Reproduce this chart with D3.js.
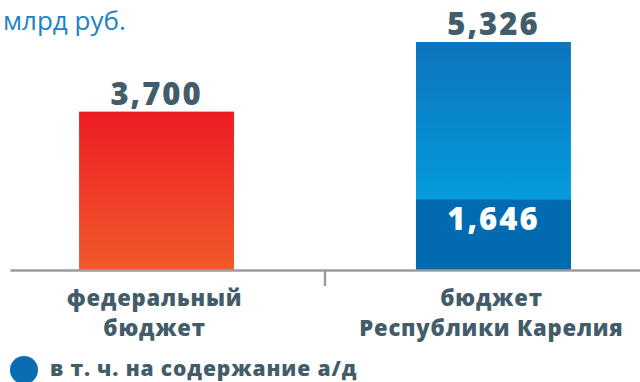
<!DOCTYPE html>
<html>
<head>
<meta charset="utf-8">
<script src="https://cdn.jsdelivr.net/npm/d3@7"></script>
<style>
  html, body { margin: 0; padding: 0; background: #fff; }
  svg { display: block; }
  text { font-family: "Open Sans", "Noto Sans", sans-serif; }
</style>
</head>
<body>
<svg id="chart" width="640" height="382"></svg>
<script>
// Budget sources, bn rubles
const categories = ["федеральный бюджет", "бюджет Республики Карелия"];
const labelLines = [["федеральный", "бюджет"], ["бюджет", "Республики Карелия"]];
const totals = [3.700, 5.326];
const maintenance = [null, 1.646];   // of which: road maintenance
const unitTitle = "млрд руб.";
const legendText = "в т. ч. на содержание а/д";

const fmt = v => d3.format(",.3f")(v).replace(".", ",");

const svg = d3.select("#chart");
const baseY = 270;
const ink = "#435c69";

const x = d3.scaleBand()
  .domain(categories)
  .range([10, 640])
  .paddingInner(0.54)
  .paddingOuter(0.205);

const y = d3.scaleLinear()
  .domain([0, d3.max(totals)])
  .range([baseY, 42]);

// gradients
const defs = svg.append("defs");
const gRed = defs.append("linearGradient").attr("id", "gRed")
  .attr("x1", 0).attr("y1", 0).attr("x2", 0).attr("y2", 1);
gRed.append("stop").attr("offset", "0%").attr("stop-color", "#ee1d25");
gRed.append("stop").attr("offset", "100%").attr("stop-color", "#f15a2a");

const gBlue = defs.append("linearGradient").attr("id", "gBlue")
  .attr("x1", 0).attr("y1", 0).attr("x2", 0).attr("y2", 1);
gBlue.append("stop").attr("offset", "0%").attr("stop-color", "#0e74bd");
gBlue.append("stop").attr("offset", "100%").attr("stop-color", "#00adeb");

// unit title
svg.append("text")
  .attr("x", 3).attr("y", 30)
  .attr("font-size", 26)
  .attr("font-weight", 500)
  .attr("fill", "#1b82c8")
  .text(unitTitle);

// total bars
svg.selectAll("rect.total")
  .data(categories)
  .join("rect")
  .attr("class", "total")
  .attr("x", d => x(d))
  .attr("width", x.bandwidth())
  .attr("y", (d, i) => y(totals[i]))
  .attr("height", (d, i) => baseY - y(totals[i]))
  .attr("fill", (d, i) => i === 0 ? "url(#gRed)" : "url(#gBlue)");

// maintenance segments
const segData = categories.map((c, i) => ({ c, v: maintenance[i] })).filter(d => d.v != null);
svg.selectAll("rect.seg")
  .data(segData)
  .join("rect")
  .attr("class", "seg")
  .attr("x", d => x(d.c))
  .attr("width", x.bandwidth())
  .attr("y", d => y(d.v))
  .attr("height", d => baseY - y(d.v))
  .attr("fill", "#006bb0");

svg.selectAll("text.seg")
  .data(segData)
  .join("text")
  .attr("class", "seg")
  .attr("x", d => x(d.c) + x.bandwidth() / 2)
  .attr("y", d => y(d.v) + 30)
  .attr("text-anchor", "middle")
  .attr("font-size", 31)
  .attr("font-weight", 800)
  .attr("letter-spacing", 2)
  .attr("fill", "#ffffff")
  .text(d => fmt(d.v));

// total value labels
svg.selectAll("text.total")
  .data(categories)
  .join("text")
  .attr("class", "total")
  .attr("x", d => x(d) + x.bandwidth() / 2)
  .attr("y", (d, i) => y(totals[i]) - 7)
  .attr("text-anchor", "middle")
  .attr("font-size", 31)
  .attr("font-weight", 800)
  .attr("letter-spacing", 2)
  .attr("fill", ink)
  .text((d, i) => fmt(totals[i]));

// baseline axis
const axis = svg.append("g")
  .attr("transform", `translate(0,${baseY})`)
  .call(d3.axisBottom(x).tickSize(0).tickSizeOuter(0).tickFormat(""));
axis.select(".domain").attr("stroke", "#9c9ca0").attr("stroke-width", 2.5);

// divider tick between categories
const midX = (x(categories[0]) + x.bandwidth() + x(categories[1])) / 2;
svg.append("line")
  .attr("x1", midX).attr("x2", midX)
  .attr("y1", baseY).attr("y2", 286)
  .attr("stroke", "#9c9ca0").attr("stroke-width", 2.5);

// category labels
const cat = svg.selectAll("text.cat")
  .data(categories)
  .join("text")
  .attr("class", "cat")
  .attr("text-anchor", "middle")
  .attr("font-size", 22)
  .attr("font-weight", 800)
  .attr("letter-spacing", 0.8)
  .attr("fill", ink);
cat.selectAll("tspan")
  .data((d, i) => labelLines[i].map(t => ({ t, c: d })))
  .join("tspan")
  .attr("x", d => x(d.c) + x.bandwidth() / 2 - 2)
  .attr("y", (d, j) => 306 + j * 30)
  .text(d => d.t);

// legend
svg.append("circle")
  .attr("cx", 24).attr("cy", 370).attr("r", 14)
  .attr("fill", "#0a6db3");
svg.append("text")
  .attr("x", 50).attr("y", 376)
  .attr("font-size", 21)
  .attr("font-weight", 800)
  .attr("letter-spacing", 0.9)
  .attr("fill", ink)
  .text(legendText);
</script>
</body>
</html>
